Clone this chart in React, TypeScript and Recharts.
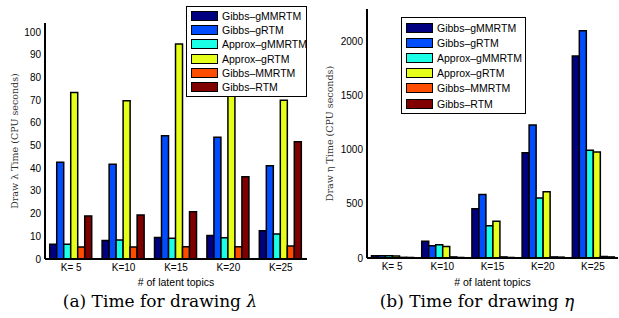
import { Bar, BarChart, XAxis, YAxis } from "recharts"

const categories = ["K= 5", "K=10", "K=15", "K=20", "K=25"]
const seriesNames = ["Gibbs–gMMRTM", "Gibbs–gRTM", "Approx–gMMRTM", "Approx–gRTM", "Gibbs–MMRTM", "Gibbs–RTM"]
const colors = ["#000080", "#004dff", "#1affe6", "#e6ff1a", "#ff4d00", "#800000"]

// time for drawing lambda (CPU seconds)
const lambdaGibbsGMMRTM = [6.5, 8.1, 9.5, 10.4, 12.5]
const lambdaGibbsGRTM = [42.6, 41.8, 54.3, 53.6, 41.1]
const lambdaApproxGMMRTM = [6.5, 8.4, 9.1, 9.4, 11]
const lambdaApproxGRTM = [73.4, 69.7, 94.7, 86, 70]
const lambdaGibbsMMRTM = [5.3, 5.3, 5.4, 5.4, 5.7]
const lambdaGibbsRTM = [19, 19.4, 20.8, 36.3, 51.7]
const lambdaTicks = [0, 10, 20, 30, 40, 50, 60, 70, 80, 90, 100]

// time for drawing eta (CPU seconds)
const etaGibbsGMMRTM = [20, 154, 454, 972, 1867]
const etaGibbsGRTM = [20, 114, 586, 1228, 2098]
const etaApproxGMMRTM = [20, 123, 299, 555, 996]
const etaApproxGRTM = [18, 107, 339, 611, 978]
const etaGibbsMMRTM = [6, 10, 10, 10, 15]
const etaGibbsRTM = [5, 5, 5, 8, 10]
const etaTicks = [0, 500, 1000, 1500, 2000]

const keys = ["s0", "s1", "s2", "s3", "s4", "s5"]

function buildRows(series: number[][]) {
  return categories.map((k, i) => {
    const row: Record<string, string | number> = { k }
    series.forEach((s, j) => {
      row[keys[j]] = s[i]
    })
    return row
  })
}

const lambdaData = buildRows([
  lambdaGibbsGMMRTM,
  lambdaGibbsGRTM,
  lambdaApproxGMMRTM,
  lambdaApproxGRTM,
  lambdaGibbsMMRTM,
  lambdaGibbsRTM,
])
const etaData = buildRows([etaGibbsGMMRTM, etaGibbsGRTM, etaApproxGMMRTM, etaApproxGRTM, etaGibbsMMRTM, etaGibbsRTM])

const sans = "'Liberation Sans', Arial, sans-serif"
const serif = "'DejaVu Serif', serif"

function LegendBox({ left, top, rowH, width }: { left: number; top: number; rowH: number; width: number }) {
  return (
    <div
      style={{
        position: "absolute",
        left,
        top,
        width,
        border: "1px solid #000",
        background: "#fff",
        padding: "2px 0 2px 4px",
        boxSizing: "border-box",
        fontFamily: sans,
        fontSize: 10.5,
        color: "#000",
        whiteSpace: "nowrap",
      }}
    >
      {seriesNames.map((n, i) => (
        <div key={n} style={{ display: "flex", alignItems: "center", height: rowH }}>
          <span
            style={{
              display: "inline-block",
              width: 25,
              height: 8,
              background: colors[i],
              border: "1.5px solid #000",
              marginRight: 4,
              flexShrink: 0,
            }}
          />
          <span>{n}</span>
        </div>
      ))}
    </div>
  )
}

interface PanelProps {
  data: Record<string, string | number>[]
  width: number
  top: number
  right: number
  axisWidth: number
  xAxisHeight: number
  domain: [number, number]
  ticks: number[]
  yLabel: string
  labelDx: number
}

function Panel(p: PanelProps) {
  return (
    <BarChart
      width={p.width}
      height={290}
      data={p.data}
      margin={{ top: p.top, right: p.right, left: 0, bottom: 0 }}
      barCategoryGap="9%"
      barGap={0}
    >
      <XAxis
        dataKey="k"
        height={p.xAxisHeight}
        tickLine={false}
        tickSize={0}
        tickMargin={5}
        axisLine={{ stroke: "#000", strokeWidth: 2 }}
        tick={{ fill: "#000", fontSize: 10, fontFamily: sans }}
        label={{ value: "# of latent topics", position: "insideBottom", offset: 4, fill: "#000", fontSize: 10.5, fontFamily: sans }}
      />
      <YAxis
        width={p.axisWidth}
        domain={p.domain}
        ticks={p.ticks}
        interval={0}
        tickLine={false}
        tickSize={0}
        tickMargin={4}
        axisLine={{ stroke: "#000", strokeWidth: 2 }}
        tick={{ fill: "#000", fontSize: 10, fontFamily: sans }}
        label={{ value: p.yLabel, angle: -90, position: "center", dx: p.labelDx, fill: "#333", fontSize: 9.5, fontFamily: serif }}
      />
      {keys.map((k, i) => (
        <Bar key={k} dataKey={k} name={seriesNames[i]} fill={colors[i]} stroke="#000" strokeWidth={1.5} isAnimationActive={false} />
      ))}
    </BarChart>
  )
}

export default function App() {
  return (
    <div style={{ position: "absolute", left: 0, top: 0, width: 619, height: 318, background: "#fff", overflow: "hidden" }}>
      <div style={{ position: "absolute", left: 0, top: 0 }}>
        <Panel
          data={lambdaData}
          width={310}
          top={23}
          right={3}
          axisWidth={45}
          xAxisHeight={31}
          domain={[0, 104]}
          ticks={lambdaTicks}
          yLabel="Draw λ Time (CPU seconds)"
          labelDx={-8}
        />
      </div>
      <div style={{ position: "absolute", left: 310, top: 0 }}>
        <Panel
          data={etaData}
          width={309}
          top={9}
          right={1}
          axisWidth={57}
          xAxisHeight={32}
          domain={[0, 2300]}
          ticks={etaTicks}
          yLabel="Draw η Time (CPU seconds)"
          labelDx={-9}
        />
      </div>
      <LegendBox left={186} top={6} rowH={14.2} width={121} />
      <LegendBox left={401} top={17} rowH={15.2} width={125} />
      <div style={{ position: "absolute", left: 0, width: 320, top: 291, textAlign: "center", fontFamily: serif, fontSize: 17, color: "#000" }}>
        (a) Time for drawing <i>λ</i>
      </div>
      <div style={{ position: "absolute", left: 317, width: 320, top: 291, textAlign: "center", fontFamily: serif, fontSize: 17, color: "#000" }}>
        (b) Time for drawing <i>η</i>
      </div>
    </div>
  )
}
